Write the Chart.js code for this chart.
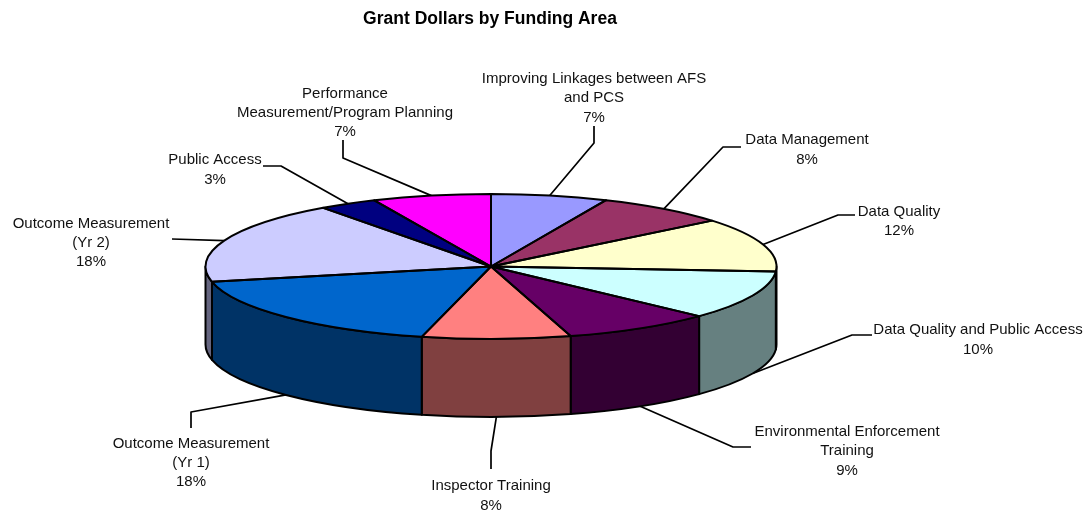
<!DOCTYPE html>
<html>
<head>
<meta charset="utf-8">
<style>html,body{margin:0;padding:0;background:#fff}canvas{display:block}</style>
<script src="https://cdn.jsdelivr.net/npm/chart.js@4/dist/chart.umd.js"></script>
</head>
<body>
<canvas id="c" width="1090" height="514"></canvas>
<script>
const categories = ["Improving Linkages between AFS and PCS","Data Management","Data Quality","Data Quality and Public Access","Environmental Enforcement Training","Inspector Training","Outcome Measurement (Yr 1)","Outcome Measurement (Yr 2)","Public Access","Performance Measurement/Program Planning"];
const values = [6.6,7.5,12,10.9,8.5,8.4,17.7,18.4,3.3,6.7];
const topColors = ["#9999FF","#993366","#FFFFCC","#CCFFFF","#660066","#FF8080","#0066CC","#CCCCFF","#000080","#FF00FF"];
const wallColors = ["#4C4C80","#4C1933","#808066","#668080","#330033","#804040","#003366","#666680","#000040","#800080"];
const labelLines = [
  ["Improving Linkages between AFS","and PCS","7%"],
  ["Data Management","8%"],
  ["Data Quality","12%"],
  ["Data Quality and Public Access","10%"],
  ["Environmental Enforcement","Training","9%"],
  ["Inspector Training","8%"],
  ["Outcome Measurement","(Yr 1)","18%"],
  ["Outcome Measurement","(Yr 2)","18%"],
  ["Public Access","3%"],
  ["Performance","Measurement/Program Planning","7%"]
];
// label anchors: centre x and the middle y of each line
const labelX = [594,807,899,978,847,491,191,91,215,345];
const labelY = [[79,98,118],[140,160],[212,231],[330,350],[432,451,471],[486,506],[444,463,482],[224,243,262],[160,180],[94,113,132]];
// leader elbows, from the slice outwards
const leaders = [
  [[594,143],[594,126]],
  [[723,147],[741,147]],
  [[838,215],[855,215]],
  [[852,335],[872,335]],
  [[733,447],[751,447]],
  [[491,451],[491,469]],
  [[191,412],[191,428]],
  [[172,239]],
  [[281,166],[263,166]],
  [[343,158],[343,140]]
];
const CX = 491, CY = 266.5, RX = 285.5, RY = 72.5, DEPTH = 78;

const pie3d = {
  id: 'pie3d',
  beforeDatasetsDraw(chart) {
    const ctx = chart.ctx, arcs = chart.getDatasetMeta(0).data;
    ctx.save();
    ctx.strokeStyle = '#000'; ctx.lineWidth = 1.7; ctx.lineJoin = 'round';
    // leader lines
    arcs.forEach((el, i) => {
      const mid = (el.startAngle + el.endAngle) / 2;
      const front = Math.sin(mid) > 0;
      ctx.beginPath();
      ctx.moveTo(CX + RX * Math.cos(mid), CY + RY * Math.sin(mid) + (front ? DEPTH : 0));
      leaders[i].forEach(p => ctx.lineTo(p[0], p[1]));
      ctx.stroke();
    });
    // side wall
    ctx.lineWidth = 2;
    arcs.forEach((el, i) => {
      const a = Math.max(el.startAngle, 0), b = Math.min(el.endAngle, Math.PI);
      if (b <= a) return;
      ctx.beginPath();
      ctx.ellipse(CX, CY, RX, RY, 0, a, b);
      ctx.ellipse(CX, CY + DEPTH, RX, RY, 0, b, a, true);
      ctx.closePath();
      ctx.fillStyle = wallColors[i];
      ctx.fill();
      ctx.stroke();
    });
    ctx.restore();
    // squash the library's own arcs into the top ellipse
    const el0 = arcs[0];
    ctx.save();
    ctx.translate(CX, CY);
    ctx.scale(RX / el0.outerRadius, RY / el0.outerRadius);
    ctx.translate(-el0.x, -el0.y);
  },
  afterDatasetsDraw(chart) {
    const ctx = chart.ctx, arcs = chart.getDatasetMeta(0).data;
    ctx.restore();
    ctx.save();
    ctx.strokeStyle = '#000'; ctx.lineWidth = 2; ctx.lineJoin = 'round';
    arcs.forEach(el => {
      ctx.beginPath();
      ctx.moveTo(CX, CY);
      ctx.ellipse(CX, CY, RX, RY, 0, el.startAngle, el.endAngle);
      ctx.closePath();
      ctx.stroke();
    });
    ctx.fillStyle = '#111';
    ctx.font = '15px "Liberation Sans", Arial, sans-serif';
    ctx.textAlign = 'center'; ctx.textBaseline = 'middle';
    labelLines.forEach((lines, i) => lines.forEach((t, j) => ctx.fillText(t, labelX[i], labelY[i][j])));
    ctx.restore();
  }
};

new Chart(document.getElementById('c'), {
  type: 'pie',
  data: { labels: categories, datasets: [{ data: values, backgroundColor: topColors, borderWidth: 0 }] },
  options: {
    responsive: false, animation: false,
    events: [],
    layout: { padding: { left: 0, right: 110, top: 0, bottom: 14 } },
    plugins: {
      legend: { display: false },
      tooltip: { enabled: false },
      title: { display: true, text: 'Grant Dollars by Funding Area', color: '#000',
        font: { family: '"Liberation Sans", Arial, sans-serif', size: 17.5, weight: 'bold' },
        padding: { top: 9, bottom: 8 } }
    }
  },
  plugins: [pie3d]
});
</script>
</body>
</html>
